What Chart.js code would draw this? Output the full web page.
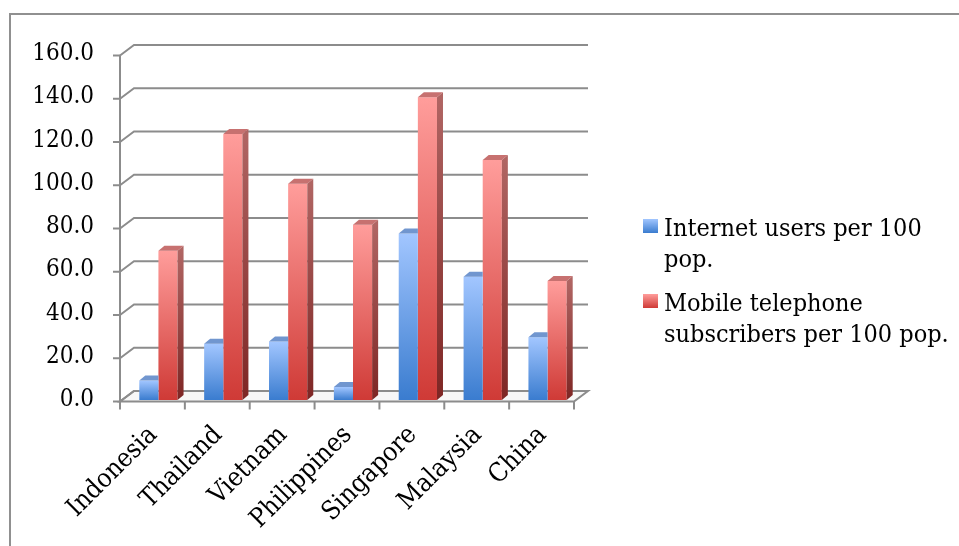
<!DOCTYPE html>
<html>
<head>
<meta charset="utf-8">
<title>Internet and mobile penetration</title>
<script src="https://cdn.jsdelivr.net/npm/chart.js@4.4.1/dist/chart.umd.min.js"></script>
<style>
  html, body { margin: 0; background: #fff; overflow: hidden; }
  #wrap { position: relative; width: 959px; height: 546px; overflow: hidden; }
  #frame { position: absolute; left: 9px; top: 13px; width: 2000px; height: 2000px; border: 2px solid #909090; }
  #chart { position: absolute; left: 0; top: 0; }
  #legend { position: absolute; left: 643px; top: 212px; width: 312px; font-family: "DejaVu Serif Condensed", "DejaVu Serif", serif; font-size: 25px; line-height: 31px; color: #000; }
  .item { position: relative; padding-left: 21px; margin-bottom: 13px; }
  .swatch { position: absolute; left: 0; top: 7px; width: 15px; height: 14px; }
</style>
</head>
<body>
<div id="wrap">
  <div id="frame"></div>
  <canvas id="chart" width="959" height="546"></canvas>
  <div id="legend"></div>
</div>
<script>
var categories = ['Indonesia', 'Thailand', 'Vietnam', 'Philippines', 'Singapore', 'Malaysia', 'China'];
var internetUsers = [9, 26, 27, 6, 77, 57, 29];
var mobileSubs = [69, 123, 100, 81, 140, 111, 55];
var seriesNames = ['Internet users per 100 pop.', 'Mobile telephone subscribers per 100 pop.'];
var yTicks = [0, 20, 40, 60, 80, 100, 120, 140, 160];

var blue = { light: '#a2c6ff', dark: '#3a7ccf', top: '#7196cf', side: '#3f69a6' };
var red = { light: '#ff9d9b', dark: '#cf3a36', top: '#c77170', side: '#93403e' };

// front plane / back wall offsets, relative to the bar faces
var FRONT = { dx: -6, dy: 1.5 };
var BACK = { dx: 8, dy: -9 };
var DEPTH = { dx: 6, dy: -5 };
var gridColor = '#8c8c8c';

// vertical gradient running down each bar
function barFill(c) {
  return function (ctx) {
    var chart = ctx.chart;
    if (!chart.chartArea || ctx.type !== 'data') return c.dark;
    var y = chart.scales.y;
    var top = y.getPixelForValue(ctx.raw);
    var base = y.getPixelForValue(0);
    var g = chart.ctx.createLinearGradient(0, top, 0, base);
    g.addColorStop(0, c.light);
    g.addColorStop(1, c.dark);
    return g;
  };
}

function poly(ctx, pts, fill) {
  ctx.beginPath();
  ctx.moveTo(pts[0][0], pts[0][1]);
  for (var i = 1; i < pts.length; i++) ctx.lineTo(pts[i][0], pts[i][1]);
  ctx.closePath();
  ctx.fillStyle = fill;
  ctx.fill();
}

var walls = {
  id: 'walls',
  beforeDatasetsDraw: function (chart) {
    var ctx = chart.ctx, a = chart.chartArea, y = chart.scales.y;
    var y0 = y.getPixelForValue(0);
    ctx.save();

    // floor
    ctx.beginPath();
    ctx.moveTo(a.left + FRONT.dx, y0 + FRONT.dy);
    ctx.lineTo(a.right + FRONT.dx, y0 + FRONT.dy);
    ctx.lineTo(a.right + BACK.dx, y0 + BACK.dy);
    ctx.lineTo(a.left + BACK.dx, y0 + BACK.dy);
    ctx.closePath();
    ctx.fillStyle = '#f7f7f7';
    ctx.fill();
    ctx.strokeStyle = gridColor;
    ctx.lineWidth = 2;
    ctx.stroke();

    // back wall gridlines, bent at the side wall
    yTicks.forEach(function (v) {
      var py = y.getPixelForValue(v);
      ctx.beginPath();
      ctx.moveTo(a.left + FRONT.dx, py + FRONT.dy);
      ctx.lineTo(a.left + BACK.dx, py + BACK.dy);
      ctx.lineTo(a.right + BACK.dx, py + BACK.dy);
      ctx.stroke();
      // tick mark on the value axis
      ctx.beginPath();
      ctx.moveTo(a.left + FRONT.dx - 7, py + FRONT.dy);
      ctx.lineTo(a.left + FRONT.dx, py + FRONT.dy);
      ctx.stroke();
    });

    // value axis line
    ctx.beginPath();
    ctx.moveTo(a.left + FRONT.dx, y.getPixelForValue(160) + FRONT.dy);
    ctx.lineTo(a.left + FRONT.dx, y0 + FRONT.dy);
    ctx.stroke();

    // category tick marks under the floor
    var w = (a.right - a.left) / categories.length;
    for (var i = 0; i <= categories.length; i++) {
      var px = a.left + i * w + FRONT.dx;
      ctx.beginPath();
      ctx.moveTo(px, y0 + FRONT.dy);
      ctx.lineTo(px, y0 + FRONT.dy + 8);
      ctx.stroke();
    }
    ctx.restore();
  },
  afterDatasetsDraw: function (chart) {
    var ctx = chart.ctx;
    var cols = [blue, red];
    ctx.save();
    chart.data.datasets.forEach(function (ds, di) {
      var meta = chart.getDatasetMeta(di);
      var c = cols[di];
      meta.data.forEach(function (bar) {
        var p = bar.getProps(['x', 'y', 'base', 'width'], true);
        var x0 = p.x - p.width / 2, x1 = p.x + p.width / 2;
        if (di === 0) {
          // right half of the top hides behind the neighbouring bar
          poly(ctx, [[x0, p.y], [x1, p.y], [x1, p.y + DEPTH.dy], [x0 + DEPTH.dx, p.y + DEPTH.dy]], c.top);
        } else {
          poly(ctx, [[x0, p.y], [x1, p.y], [x1 + DEPTH.dx, p.y + DEPTH.dy], [x0 + DEPTH.dx, p.y + DEPTH.dy]], c.top);
          var g = ctx.createLinearGradient(0, p.y, 0, p.base);
          g.addColorStop(0, '#b06563');
          g.addColorStop(1, '#7e2624');
          poly(ctx, [[x1, p.y], [x1 + DEPTH.dx, p.y + DEPTH.dy], [x1 + DEPTH.dx, p.base + DEPTH.dy], [x1, p.base]], g);
        }
      });
    });
    ctx.restore();
  }
};

var chart = new Chart(document.getElementById('chart'), {
  type: 'bar',
  data: {
    labels: categories,
    datasets: [
      { label: seriesNames[0], data: internetUsers, backgroundColor: barFill(blue), borderWidth: 0 },
      { label: seriesNames[1], data: mobileSubs, backgroundColor: barFill(red), borderWidth: 0 }
    ]
  },
  options: {
    responsive: false,
    animation: false,
    layout: { padding: { left: 10, top: 54, right: 379, bottom: 0 } },
    datasets: { bar: { categoryPercentage: 0.59, barPercentage: 1 } },
    plugins: { legend: { display: false }, tooltip: { enabled: false } },
    scales: {
      x: {
        grid: { display: false },
        border: { display: false },
        ticks: {
          minRotation: 45, maxRotation: 45, padding: 12, labelOffset: -5, color: '#000',
          font: { family: 'DejaVu Serif Condensed', size: 26 }
        },
        afterFit: function (scale) { scale.height = 146; }
      },
      y: {
        min: 0, max: 160,
        grid: { display: false },
        border: { display: false },
        afterBuildTicks: function (scale) {
          scale.ticks = yTicks.map(function (v) { return { value: v }; });
        },
        ticks: {
          padding: 24, color: '#000',
          font: { family: 'DejaVu Serif Condensed', size: 24 },
          callback: function (v) { return Number(v).toFixed(1); }
        },
        afterFit: function (scale) { scale.width = 116; }
      }
    }
  },
  plugins: [walls]
});

// legend with wrapped series names
var legend = document.getElementById('legend');
chart.data.datasets.forEach(function (ds, i) {
  var c = [blue, red][i];
  var item = document.createElement('div');
  item.className = 'item';
  var sw = document.createElement('span');
  sw.className = 'swatch';
  sw.style.background = 'linear-gradient(' + c.light + ',' + c.dark + ')';
  item.appendChild(sw);
  item.appendChild(document.createTextNode(ds.label));
  legend.appendChild(item);
});
</script>
</body>
</html>
